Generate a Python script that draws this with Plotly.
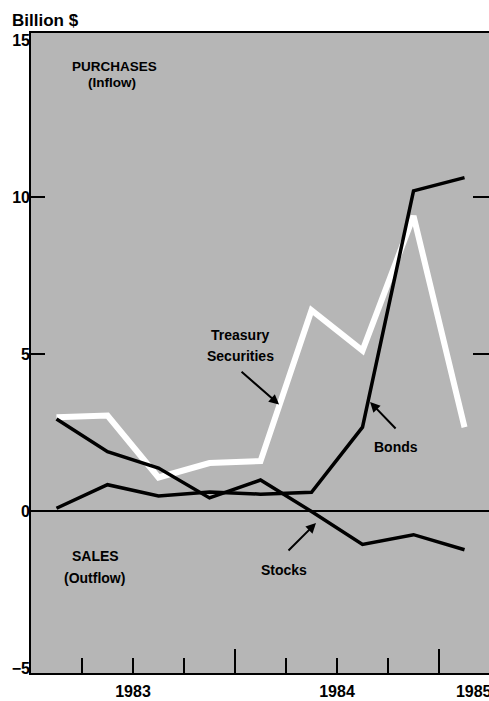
import plotly.graph_objects as go

# ---------------- data ----------------
quarters = ["1983-Q1", "1983-Q2", "1983-Q3", "1983-Q4",
            "1984-Q1", "1984-Q2", "1984-Q3", "1984-Q4", "1985-Q1"]
treasury = [3.0, 3.05, 1.08, 1.54, 1.6, 6.4, 5.12, 9.4, 2.68]
bonds = [0.1, 0.85, 0.49, 0.62, 0.55, 0.61, 2.68, 10.2, 10.62]
stocks = [2.94, 1.9, 1.38, 0.43, 1.0, 0.0, -1.05, -0.74, -1.22]

year_labels = ["1983", "1984", "1985"]
year_label_pos = [1983.5, 1984.5, 1985.17]
y_tick_vals = [-5, 0, 5, 10, 15]
y_tick_text = ["\u22125", "0", "5", "10", "15"]

# quarter midpoints as numeric x positions
def qpos(q):
    y, qq = q.split("-Q")
    return int(y) + (int(qq) - 0.5) / 4

xpos = [qpos(q) for q in quarters]
quarter_bounds = [1983.25, 1983.5, 1983.75, 1984.0, 1984.25, 1984.5, 1984.75, 1985.0]
year_bounds = [1984.0, 1985.0]

XR = [1983.0, 1985.245]
YR = [-5.14, 15.22]
FONT = "Liberation Sans, Arial, Helvetica, sans-serif"

fig = go.Figure()
# empty helper traces so the overlay axes get drawn
fig.add_trace(go.Scatter(x=[], y=[], xaxis="x", yaxis="y2", showlegend=False, hoverinfo="skip"))
fig.add_trace(go.Scatter(x=[], y=[], xaxis="x", yaxis="y3", showlegend=False, hoverinfo="skip"))
fig.add_trace(go.Scatter(x=[], y=[], xaxis="x2", yaxis="y", showlegend=False, hoverinfo="skip"))

fig.add_trace(go.Scatter(x=xpos, y=treasury, mode="lines", name="Treasury Securities",
                         line=dict(color="white", width=6)))
fig.add_trace(go.Scatter(x=xpos, y=bonds, mode="lines", name="Bonds",
                         line=dict(color="black", width=3.5)))
fig.add_trace(go.Scatter(x=xpos, y=stocks, mode="lines", name="Stocks",
                         line=dict(color="black", width=3.5)))

fig.update_layout(
    width=489, height=701,
    margin=dict(l=31, r=0, t=33, b=28),
    paper_bgcolor="white", plot_bgcolor="#b6b6b6",
    showlegend=False,
    font=dict(family=FONT, color="black"),
    xaxis=dict(range=XR, tickvals=year_label_pos, ticktext=year_labels, ticks="",
               showline=True, mirror=True, linecolor="black", linewidth=2,
               showgrid=False, zeroline=False, ticklabelstandoff=3,
               automargin=False, ticklabeloverflow="allow",
               tickfont=dict(size=16, family=FONT, weight="bold"),
               minor=dict(tickmode="array", tickvals=quarter_bounds, ticks="inside",
                          ticklen=15, tickwidth=2, tickcolor="black", showgrid=False)),
    xaxis2=dict(range=XR, overlaying="x", anchor="y", side="bottom",
                tickvals=year_bounds, ticks="inside", ticklen=24, tickwidth=2,
                tickcolor="black", showticklabels=False, showline=False,
                showgrid=False, zeroline=False, automargin=False),
    yaxis=dict(range=YR, tickvals=[5, 10], ticks="inside", ticklen=14, tickwidth=2,
               tickcolor="black", showticklabels=False, showline=True,
               linecolor="black", linewidth=2, showgrid=False, automargin=False,
               zeroline=True, zerolinecolor="black", zerolinewidth=1.5),
    yaxis2=dict(range=YR, overlaying="y", anchor="x", side="left",
                tickvals=y_tick_vals, ticktext=y_tick_text, ticks="",
                showline=False, showgrid=False, zeroline=False, automargin=False,
                ticklabeloverflow="allow",
                tickfont=dict(size=16, family=FONT, weight="bold")),
    yaxis3=dict(range=YR, overlaying="y", anchor="x", side="right",
                tickvals=[5, 10], ticks="inside", ticklen=16, tickwidth=2,
                tickcolor="black", showticklabels=False, showline=False,
                showgrid=False, zeroline=False, automargin=False),
)

def txt(x, y, t, size=14):
    fig.add_annotation(x=x, y=y, xref="x", yref="y", text=t, showarrow=False,
                       font=dict(size=size, family=FONT, color="black", weight="bold"),
                       xanchor="center", yanchor="middle")

txt(1983.407, 14.17, "PURCHASES", 13.5)
txt(1983.397, 13.66, "(Inflow)", 13.5)
txt(1983.314, -1.42, "SALES")
txt(1983.309, -2.12, "(Outflow)")
txt(1984.029, 5.62, "Treasury")
txt(1984.025, 4.94, "Securities")
txt(1984.789, 2.05, "Bonds")
txt(1984.240, -1.87, "Stocks")

def arrow(x, y, ax, ay):
    fig.add_annotation(x=x, y=y, xref="x", yref="y", text="", showarrow=True,
                       ax=ax, ay=ay, arrowhead=2, arrowsize=1, arrowwidth=2,
                       arrowcolor="black")

arrow(1984.216, 3.4, -39, -34)
arrow(1984.662, 3.48, 27, 28)
arrow(1984.397, -0.37, -29, 29)

fig.add_annotation(xref="paper", yref="paper", x=-0.046, y=1.0203, text="Billion $",
                   showarrow=False, xanchor="left", yanchor="middle",
                   font=dict(size=17, family=FONT, weight="bold", color="black"))

fig.write_html("out.html", config={"displayModeBar": False},
               post_script="document.body.style.margin='0';document.body.style.overflow='hidden';")
